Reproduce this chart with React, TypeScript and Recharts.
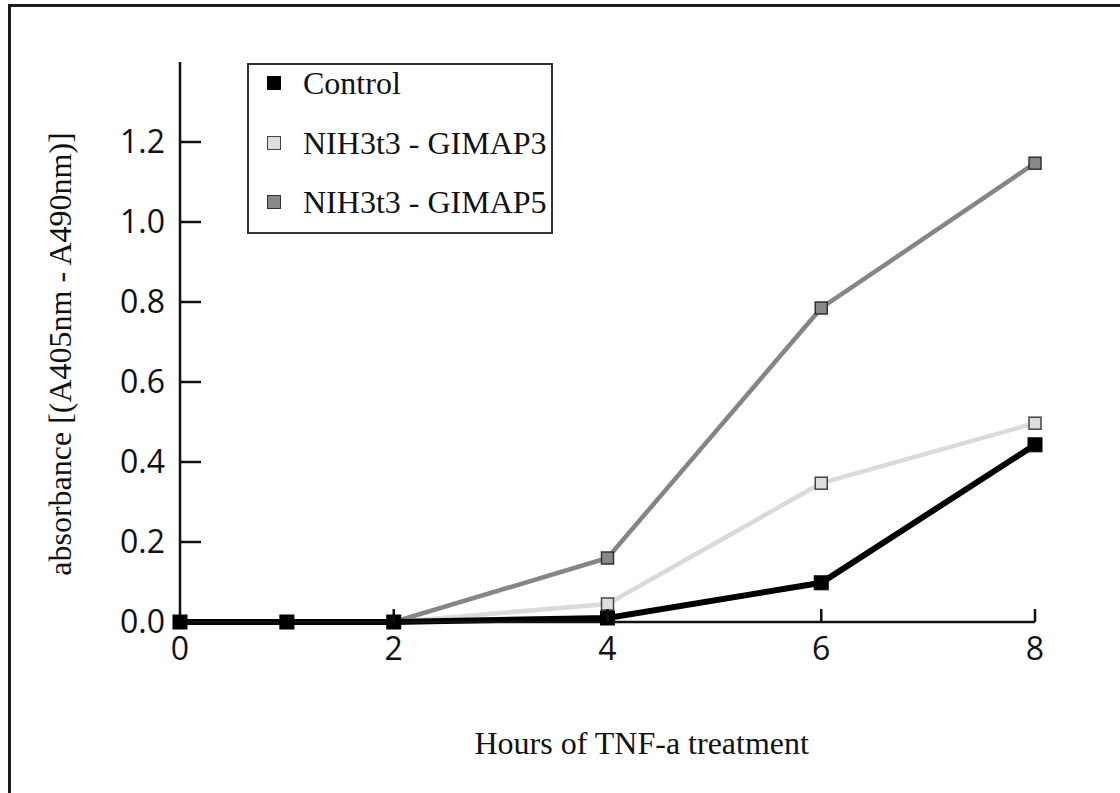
import React from 'react';
import { LineChart, Line, XAxis, YAxis, Legend } from 'recharts';

const hours = [0, 1, 2, 4, 6, 8];
const controlValues = [0, 0, 0, 0.01, 0.098, 0.443];
const gimap3Values = [0, 0, 0, 0.045, 0.347, 0.497];
const gimap5Values = [0, 0, 0, 0.16, 0.785, 1.147];
const xTicks = [0, 2, 4, 6, 8];
const yTicks = [0, 0.2, 0.4, 0.6, 0.8, 1.0, 1.2];
const seriesNames = ['Control', 'NIH3t3 - GIMAP3', 'NIH3t3 - GIMAP5'];
const xTitle = 'Hours of TNF-a treatment';
const yTitle = 'absorbance [(A405nm - A490nm)]';

const data = hours.map((h, i) => ({
  h,
  control: controlValues[i],
  g3: gimap3Values[i],
  g5: gimap5Values[i],
}));

const SERIF = '"Liberation Serif", "Times New Roman", serif';
const SANS = '"Open Sans", "Noto Sans", sans-serif';

const legendStyles = [
  { fill: '#000', stroke: '#000' },
  { fill: '#dedede', stroke: '#444' },
  { fill: '#888', stroke: '#333' },
];

const YTick = (props: any) => {
  const { x, y, payload } = props;
  return (
    <g>
      {payload.value !== 0 && (
        <line x1={x + 15} x2={x + 36} y1={y} y2={y} stroke="#111" strokeWidth={2.5} />
      )}
      <text x={x} y={y} dy={11} textAnchor="end" fontFamily={SANS} fontSize={32} fill="#111">
        {Number(payload.value).toFixed(1)}
      </text>
    </g>
  );
};

const XTick = (props: any) => {
  const { x, y, payload } = props;
  return (
    <g>
      {payload.value !== 0 && (
        <line x1={x} x2={x} y1={y} y2={y - 13} stroke="#111" strokeWidth={2.5} />
      )}
      <text x={x} y={y + 38} textAnchor="middle" fontFamily={SANS} fontSize={32} fill="#111">
        {payload.value}
      </text>
    </g>
  );
};

const makeDot = (fill: string, stroke: string, size: number, sw: number) => (p: any) => (
  <rect
    key={`dot-${p.dataKey}-${p.index}`}
    x={p.cx - size / 2}
    y={p.cy - size / 2}
    width={size}
    height={size}
    fill={fill}
    stroke={stroke}
    strokeWidth={sw}
  />
);

const renderLegend = () => (
  <div
    style={{
      boxSizing: 'border-box',
      width: 306,
      height: 171,
      border: '2px solid #333',
      background: '#fff',
      position: 'relative',
    }}
  >
    {seriesNames.map((name, i) => (
      <div
        key={name}
        style={{
          position: 'absolute',
          left: 18,
          top: -2 + i * 59.5,
          height: 40,
          display: 'flex',
          alignItems: 'center',
          whiteSpace: 'nowrap',
        }}
      >
        <div
          style={{
            boxSizing: 'border-box',
            width: 14,
            height: 14,
            background: legendStyles[i].fill,
            border: `1.5px solid ${legendStyles[i].stroke}`,
          }}
        />
        <span
          style={{
            marginLeft: 22,
            fontFamily: SERIF,
            fontSize: 32,
            color: '#111',
            lineHeight: '40px',
          }}
        >
          {name}
        </span>
      </div>
    ))}
  </div>
);

export default function App() {
  return (
    <div style={{ position: 'absolute', left: 0, top: 0, width: 1120, height: 793, background: '#fff' }}>
      <div
        style={{
          position: 'absolute',
          left: 8,
          top: 4,
          width: 1112,
          height: 789,
          borderTop: '3px solid #1c1c1c',
          borderLeft: '3px solid #1c1c1c',
          boxSizing: 'border-box',
        }}
      />
      <div style={{ position: 'absolute', left: 0, top: 0 }}>
        <LineChart
          width={1120}
          height={793}
          data={data}
          margin={{ top: 62, right: 85, bottom: 111, left: 100 }}
        >
          <XAxis
            dataKey="h"
            type="number"
            domain={[0, 8]}
            ticks={xTicks}
            height={60}
            tickSize={0}
            tickMargin={0}
            tickLine={false}
            axisLine={{ stroke: '#111', strokeWidth: 2.5 }}
            tick={<XTick />}
            interval={0}
            label={{
              content: (lp: any) => {
                const vb = lp.viewBox || {};
                return (
                  <text
                    x={vb.x + vb.width * 0.54}
                    y={vb.y + 132}
                    textAnchor="middle"
                    fontFamily={SERIF}
                    fontSize={32}
                    fill="#111"
                  >
                    {xTitle}
                  </text>
                );
              },
            }}
          />
          <YAxis
            type="number"
            domain={[0, 1.4]}
            ticks={yTicks}
            width={80}
            tickSize={0}
            tickMargin={15}
            tickLine={false}
            axisLine={{ stroke: '#111', strokeWidth: 2.5 }}
            tick={<YTick />}
            interval={0}
            label={{
              content: (lp: any) => {
                const vb = lp.viewBox || {};
                const cx = vb.x - 40;
                const cy = vb.y + vb.height / 2 + 12;
                return (
                  <text
                    x={cx}
                    y={cy}
                    transform={`rotate(-90, ${cx}, ${cy})`}
                    textAnchor="middle"
                    dominantBaseline="central"
                    fontFamily={SERIF}
                    fontSize={32}
                    fill="#111"
                  >
                    {yTitle}
                  </text>
                );
              },
            }}
          />
          <Legend
            layout="vertical"
            align="center"
            verticalAlign="middle"
            content={renderLegend}
            wrapperStyle={{ left: 247, top: 63, width: 306, height: 171 }}
          />
          <Line
            name={seriesNames[2]}
            dataKey="g5"
            stroke="#858585"
            strokeWidth={4.5}
            isAnimationActive={false}
            dot={makeDot('#888', '#333', 12, 1.5)}
            activeDot={false}
          />
          <Line
            name={seriesNames[1]}
            dataKey="g3"
            stroke="#dadada"
            strokeWidth={4.5}
            isAnimationActive={false}
            dot={makeDot('#dedede', '#444', 12, 1.5)}
            activeDot={false}
          />
          <Line
            name={seriesNames[0]}
            dataKey="control"
            stroke="#000"
            strokeWidth={6}
            isAnimationActive={false}
            dot={makeDot('#000', '#000', 14, 1)}
            activeDot={false}
          />
        </LineChart>
      </div>
    </div>
  );
}
